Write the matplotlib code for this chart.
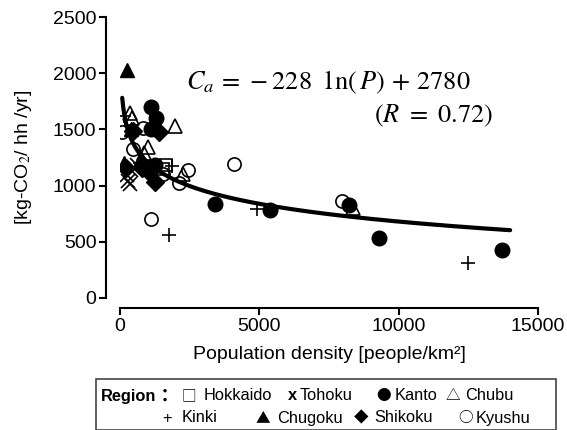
import numpy as np
import matplotlib
matplotlib.use("Agg")
import matplotlib.pyplot as plt
from matplotlib.patches import Rectangle

plt.rcParams['font.family'] = ['Liberation Sans', 'DejaVu Sans']
plt.rcParams['mathtext.fontset'] = 'stix'

# ---- data (population density [people/km2], CO2 [kg-CO2/hh/yr]) ----
hokkaido_x = [1650, 1550]
hokkaido_y = [1180, 1150]
tohoku_x = [250, 300, 350, 400, 600]
tohoku_y = [1090, 1040, 1010, 1140, 1180]
kanto_x = [1130, 1300, 1100, 1250, 3400, 5400, 8200, 9300, 13700]
kanto_y = [1700, 1600, 1500, 1180, 840, 780, 830, 530, 430]
chubu_x = [350, 420, 1980, 1000, 850, 2250, 8350]
chubu_y = [1650, 1600, 1530, 1340, 1290, 1100, 800]
kinki_x = [150, 1850, 4900, 12500, 1750, 700]
kinki_y = [1620, 1170, 790, 310, 560, 1200]
chugoku_x = [250, 150, 400, 750]
chugoku_y = [2030, 1200, 1500, 1250]
shikoku_x = [450, 1400, 230, 800, 1250, 1050]
shikoku_y = [1490, 1480, 1160, 1160, 1030, 1120]
kyushu_x = [80, 830, 480, 1100, 2450, 2100, 4100, 7950, 1550]
kyushu_y = [1480, 1510, 1330, 700, 1140, 1020, 1190, 860, 1100]

fit_a = -228
fit_b = 2780
fit_range = (80, 14000)

W, H = 567, 430
fig = plt.figure(figsize=(W / 100, H / 100), dpi=100)

def fx(px):
    return px / W

def fy(py):
    return 1 - py / H

ax = fig.add_axes([fx(120), fy(298), fx(538) - fx(120), fy(17) - fy(298)])
ax.set_xlim(0, 15000)
ax.set_ylim(0, 2500)

ms = 9.5
mew = 1.2
ax.plot(hokkaido_x, hokkaido_y, 's', ms=ms - 1, mfc='none', mec='black', mew=mew, ls='none')
ax.plot(tohoku_x, tohoku_y, 'x', ms=ms, mec='black', mew=mew, ls='none')
ax.plot(kanto_x, kanto_y, 'o', ms=ms + 1, mfc='black', mec='black', ls='none')
ax.plot(chubu_x, chubu_y, '^', ms=ms + 1, mfc='none', mec='black', mew=mew, ls='none')
ax.plot(kinki_x, kinki_y, '+', ms=ms + 1, mec='black', mew=mew, ls='none')
ax.plot(chugoku_x, chugoku_y, '^', ms=ms + 1, mfc='black', mec='black', ls='none')
ax.plot(shikoku_x, shikoku_y, 'D', ms=ms - 0.5, mfc='black', mec='black', ls='none')
ax.plot(kyushu_x, kyushu_y, 'o', ms=ms, mfc='none', mec='black', mew=mew, ls='none')

xs = np.linspace(fit_range[0], fit_range[1], 400)
ax.plot(xs, fit_a * np.log(xs) + fit_b, color='black', lw=3, solid_capstyle='round')

for s in ['top', 'right']:
    ax.spines[s].set_visible(False)
ax.spines['left'].set_position(('outward', 10))
ax.spines['bottom'].set_position(('outward', 7.2))
ax.spines['left'].set_linewidth(1.5)
ax.spines['bottom'].set_linewidth(1.5)
ax.set_xticks([0, 5000, 10000, 15000])
ax.set_yticks([0, 500, 1000, 1500, 2000, 2500])
ax.tick_params(axis='both', direction='out', length=5, width=1.5, labelsize=14, pad=2)
ax.set_xlabel('Population density [people/km²]', fontsize=14, labelpad=8)
ax.set_ylabel('[kg-CO$_2$/ hh /yr]', fontsize=14)
ax.yaxis.set_label_coords(-0.205, 0.5)

ax.text(fx(186), fy(89), r'$C_a\,=\,-228\ \ \mathrm{l\,n}(\,P)\,+\,2780$', transform=fig.transFigure,
        fontsize=19, ha='left', va='baseline')
ax.text(fx(493), fy(122), r'$(R\ =\ 0.72)$', transform=fig.transFigure,
        fontsize=19, ha='right', va='baseline')

# legend box
fig.patches.append(Rectangle((fx(96), 0.0), fx(556) - fx(96), fy(379), transform=fig.transFigure,
                             fill=False, edgecolor='#444444', lw=1.2))
r1, r2 = fy(396), fy(418)
lf = 11.8
fam = ['Liberation Sans', 'DejaVu Sans']
sym = ['Noto Sans CJK JP', 'DejaVu Sans']
def t(px, y, s, family=fam, size=lf, **kw):
    fig.text(fx(px), y, s, fontsize=size, va='center', ha='left', family=family, **kw)
t(101, r1, 'Region', weight='bold')
t(156, r1, '：', family=sym, weight='bold', size=13)
t(182, r1, '□', family=sym, size=10.5)
t(204, r1, 'Hokkaido')
t(288, r1, 'x', weight='bold')
t(300, r1, 'Tohoku')
t(376, r1, '●', family=sym, size=10.5)
t(395, r1, 'Kanto')
t(446, r1, '△', family=sym, size=10.5)
t(465, r1, 'Chubu')
t(162, r2, '+')
t(182, r2, 'Kinki')
t(256, r2, '▲', family=sym, size=10.5)
t(277, r2, 'Chugoku')
t(354, r2, '◆', family=sym, size=10.5)
t(374, r2, 'Shikoku')
t(458, r2, '○', family=sym, size=10.5)
t(476, r2, 'Kyushu')

fig.savefig('out.png', dpi=100)
